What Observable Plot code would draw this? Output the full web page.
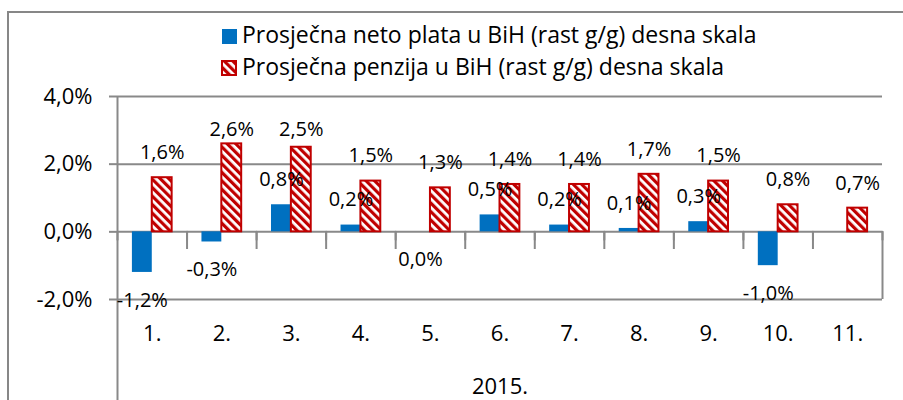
<!DOCTYPE html>
<html><head><meta charset="utf-8">
<script src="https://cdn.jsdelivr.net/npm/d3@7"></script>
<script src="https://cdn.jsdelivr.net/npm/@observablehq/plot@0.6"></script>
<style>
html,body{margin:0;padding:0;background:#fff;overflow:hidden;width:903px;height:400px;font-family:"Open Sans",sans-serif;}
#frame{position:absolute;left:7px;top:11px;width:1000px;height:600px;border-left:2px solid #878787;border-top:2px solid #878787;}
.legtext{position:absolute;font-size:23px;line-height:27px;color:#000;white-space:nowrap;}
.sw{position:absolute;box-sizing:border-box;}
#chart{position:absolute;left:0;top:80px;}
</style></head><body>
<svg width="0" height="0" style="position:absolute;left:0;top:0"><defs>
<pattern id="stripes" patternUnits="userSpaceOnUse" width="6" height="6" patternTransform="rotate(-45)">
<rect width="6" height="6" fill="#fff"/><rect width="3.2" height="6" fill="#C00000"/>
</pattern></defs></svg>
<div id="frame"></div>
<div id="legend"></div>
<div id="chart"></div>
<script>
const months = ["1.","2.","3.","4.","5.","6.","7.","8.","9.","10.","11."];
const plata = [-1.2,-0.3,0.8,0.2,0.0,0.5,0.2,0.1,0.3,-1.0,null];
const penzija = [1.6,2.6,2.5,1.5,1.3,1.4,1.4,1.7,1.5,0.8,0.7];
const seriesNames = ["Prosječna neto plata u BiH (rast g/g) desna skala","Prosječna penzija u BiH (rast g/g) desna skala"];
const yearLabel = "2015.";
const yTicks = [-2,0,2,4];

const blue = "#0070C0", red = "#C00000", gray = "#898989";
const loc = d3.formatLocale({decimal: ",", thousands: ".", grouping: [3], currency: ["", ""], minus: "-"});
const f1 = loc.format(".1f");
const pct = v => f1(v) + "%";

// legend
const leg = document.getElementById("legend");
leg.innerHTML =
  `<div class="sw" style="left:222px;top:29px;width:15px;height:15px;background:${blue}"></div>` +
  `<div class="legtext" style="left:242px;top:21px">${seriesNames[0]}</div>` +
  `<svg class="sw" style="left:221px;top:60px" width="16" height="16"><rect x="1" y="1" width="14" height="14" fill="url(#stripes)" stroke="${red}" stroke-width="2"/></svg>` +
  `<div class="legtext" style="left:242px;top:53px">${seriesNames[1]}</div>`;

const barW = 1 / 3.5;
const rowsP = months.map((m, i) => ({i, m, v: plata[i]})).filter(d => d.v != null);
const rowsR = months.map((m, i) => ({i, m, v: penzija[i]})).filter(d => d.v != null);
const edges = d3.range(months.length + 1);
const innerEdges = edges.slice(1, -1);
const yMin = d3.min(yTicks), yMax = d3.max(yTicks);
const labelCap = 2.28;

const tickShape = {draw(context, l) { context.moveTo(0, 0); context.lineTo(0, -l); }};

const chart = Plot.plot({
  width: 903, height: 320,
  marginLeft: 117, marginRight: 21, marginTop: 16, marginBottom: 0,
  style: {fontFamily: "Open Sans, sans-serif", fontSize: "20px", color: "#000", background: "transparent", overflow: "visible"},
  x: {type: "linear", domain: [0, months.length], axis: null},
  y: {domain: [yMin, yMax], range: [219, 16]},
  marks: [
    Plot.ruleY(yTicks, {stroke: gray, strokeWidth: 2}),
    Plot.axisY({ticks: yTicks, tickFormat: pct, tickSize: 8, tickPadding: 17, fontSize: 22, stroke: gray, strokeWidth: 2}),
    Plot.ruleX([0], {stroke: gray, strokeWidth: 2}),
    Plot.ruleX([months.length], {y1: yMin, stroke: gray, strokeWidth: 2}),
    Plot.ruleX(innerEdges, {y1: yMin, insetBottom: 50, stroke: gray, strokeWidth: 2}),
    Plot.vector(edges, {x: d => d, y: 0, length: 8, rotate: 180, anchor: "start", shape: tickShape, stroke: gray, strokeWidth: 2}),
    Plot.rectY(rowsP, {x1: d => d.i + 0.5 - barW, x2: d => d.i + 0.5, y1: 0, y2: d => d.v, fill: blue}),
    Plot.rectY(rowsR, {x1: d => d.i + 0.5, x2: d => d.i + 0.5 + barW, y1: 0, y2: d => d.v, fill: "url(#stripes)", stroke: red, strokeWidth: 2}),
    Plot.text(rowsP.filter(d => d.v > 0), {x: d => d.i + 0.5 - barW / 2, y: d => d.v, dy: -25, text: d => pct(d.v), fontSize: 20, fill: "#000"}),
    Plot.text(rowsP.filter(d => d.v <= 0), {x: d => d.i + 0.5 - barW / 2, y: d => d.v, dy: 28, text: d => pct(d.v), fontSize: 20, fill: "#000"}),
    Plot.text(rowsR, {x: d => d.i + 0.5 + barW / 2, y: d => Math.min(d.v, labelCap), dy: -25, text: d => pct(d.v), fontSize: 20, fill: "#000"}),
    Plot.text(months, {x: (d, i) => i + 0.5, y: () => yMin, dy: 34, text: d => d, fontSize: 22, fill: "#000"}),
    Plot.text([yearLabel], {x: () => months.length / 2, frameAnchor: "bottom", dy: -7, text: d => d, fontSize: 22, fill: "#000"})
  ]
});
document.getElementById("chart").appendChild(chart);
</script>
</body></html>
